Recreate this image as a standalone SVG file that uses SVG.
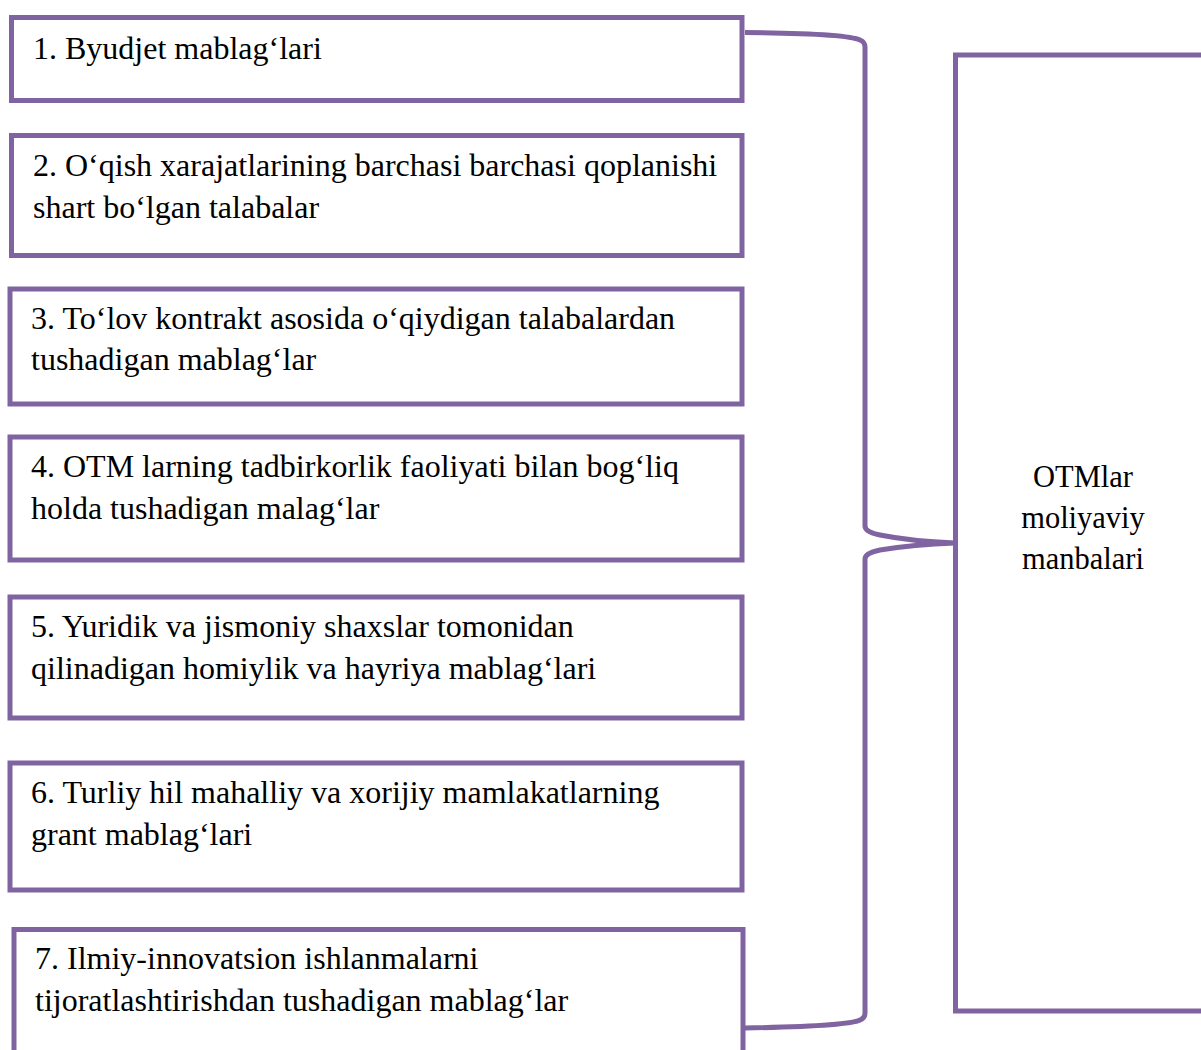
<svg xmlns="http://www.w3.org/2000/svg" width="1201" height="1050" viewBox="0 0 1201 1050">
<style>
.box{fill:#fff;stroke:#8064A2;stroke-width:5}
.con{fill:none;stroke:#8064A2;stroke-width:5;stroke-linejoin:round}
text{font-family:"Liberation Serif","Times New Roman",serif;font-size:32px;fill:#000}
.c{text-anchor:middle;font-size:30.5px}
</style>
<rect width="1201" height="1050" fill="#fff"/>
<g id="connectors">
<path class="con" d="M745,32.5 C800,33 850,35 860,40 Q865,42 865,47 L865,526 Q865,532 880,535 C905,540 930,542 955,543 C930,544 905,546 880,550 Q865,553 865,559 L865,1013 Q865,1018 860,1020 C850,1025 800,1027 745,1028"/>
</g>
<g id="n1"><rect class="box" x="11.5" y="17.5" width="730.5" height="83"/><text x="33" y="59">1. Byudjet mablag‘lari</text></g>
<g id="n2"><rect class="box" x="11.5" y="135.5" width="730.5" height="120"/><text x="33" y="176">2. O‘qish xarajatlarining barchasi barchasi qoplanishi</text><text x="33" y="218">shart bo‘lgan talabalar</text></g>
<g id="n3"><rect class="box" x="10" y="289" width="732" height="115"/><text x="31" y="329">3. To‘lov kontrakt asosida o‘qiydigan talabalardan</text><text x="31" y="370">tushadigan mablag‘lar</text></g>
<g id="n4"><rect class="box" x="10" y="437" width="732" height="123"/><text x="31" y="477">4. OTM larning tadbirkorlik faoliyati bilan bog‘liq</text><text x="31" y="519">holda tushadigan malag‘lar</text></g>
<g id="n5"><rect class="box" x="10" y="597" width="732" height="121"/><text x="31" y="637">5. Yuridik va jismoniy shaxslar tomonidan</text><text x="31" y="679">qilinadigan homiylik va hayriya mablag‘lari</text></g>
<g id="n6"><rect class="box" x="10" y="763" width="732" height="127"/><text x="31" y="803">6. Turliy hil mahalliy va xorijiy mamlakatlarning</text><text x="31" y="845">grant mablag‘lari</text></g>
<g id="n7"><rect class="box" x="14" y="929.5" width="729" height="140"/><text x="35" y="969">7. Ilmiy-innovatsion ishlanmalarni</text><text x="35" y="1011">tijoratlashtirishdan tushadigan mablag‘lar</text></g>
<g id="n8"><rect class="box" x="955.5" y="55" width="260" height="956"/><text class="c" x="1083" y="487">OTMlar</text><text class="c" x="1083" y="528">moliyaviy</text><text class="c" x="1083" y="569">manbalari</text></g>
</svg>
